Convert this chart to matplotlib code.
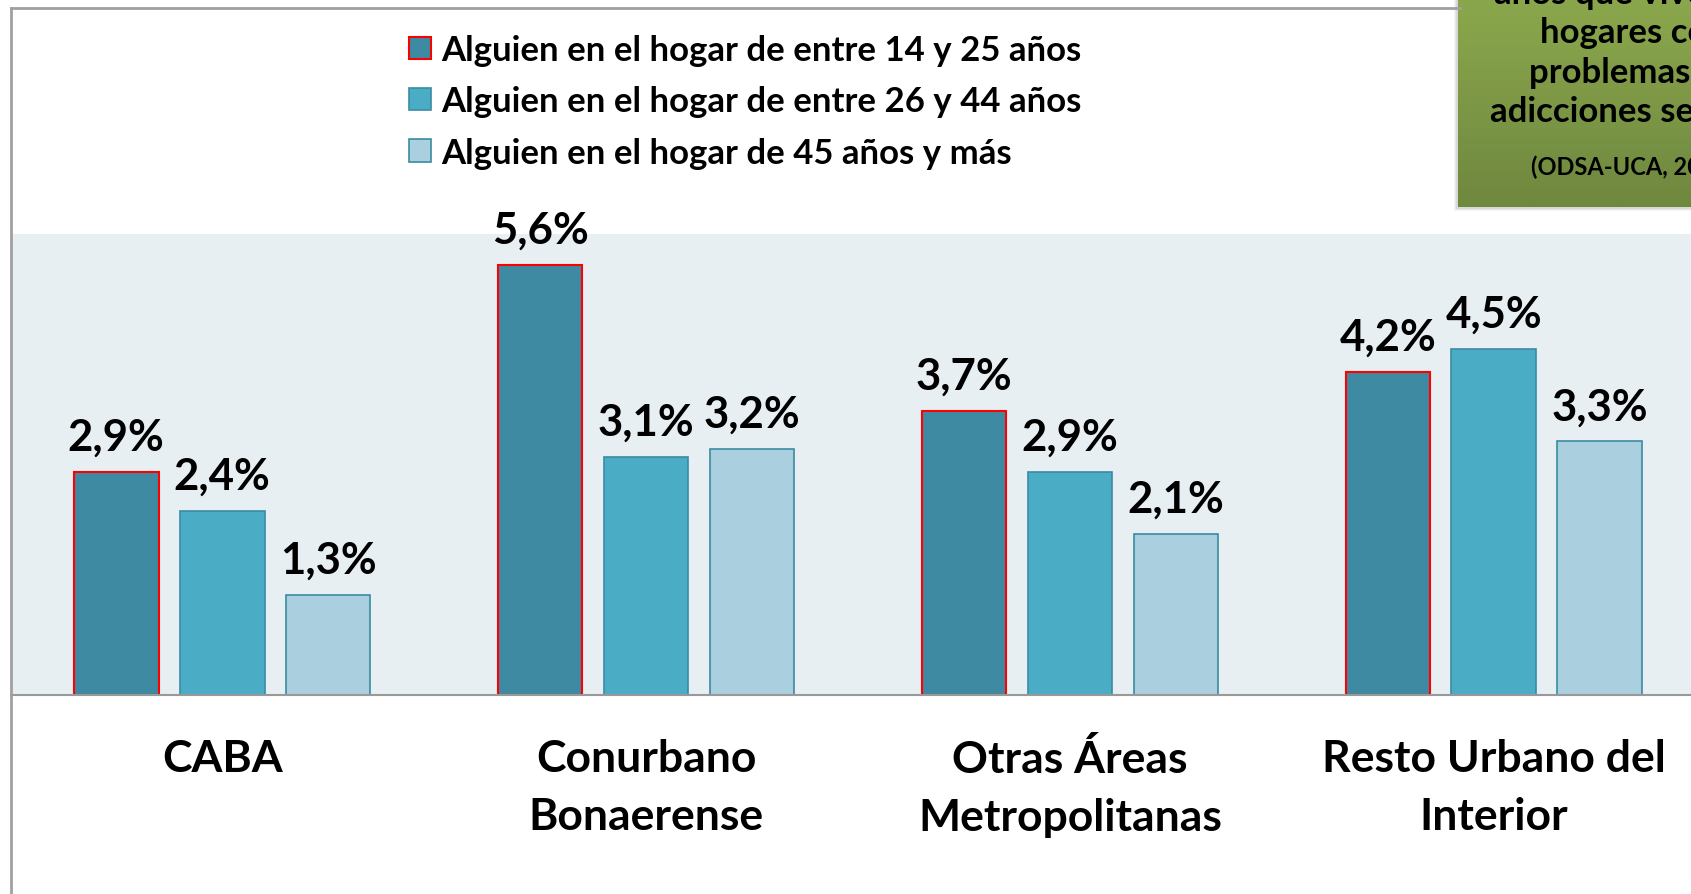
import matplotlib.pyplot as plt
import numpy as np
from matplotlib.lines import Line2D
from matplotlib.patches import Rectangle
from matplotlib.colors import LinearSegmentedColormap

plt.rcParams['font.family'] = ['Lato', 'DejaVu Sans']
plt.rcParams['font.weight'] = 'bold'

categorias = ["CABA", "Conurbano\nBonaerense", "Otras Áreas\nMetropolitanas", "Resto Urbano del\nInterior"]
serie_14_25 = [2.9, 5.6, 3.7, 4.2]
serie_26_44 = [2.4, 3.1, 2.9, 4.5]
serie_45 = [1.3, 3.2, 2.1, 3.3]
nombres = ["Alguien en el hogar de entre 14 y 25 años",
           "Alguien en el hogar de entre 26 y 44 años",
           "Alguien en el hogar de 45 años y más"]
lineas_recuadro = ["años que viven en", "hogares con", "problemas de", "adicciones severas"]
fuente = "(ODSA-UCA, 2011)"

W, H = 1691, 895
fig = plt.figure(figsize=(W / 100, H / 100), dpi=100)
fig.patch.set_facecolor("white")

# area del grafico
ax = fig.add_axes([11 / W, 1 - 696 / H, 1 - 11 / W, (696 - 235) / H])
ax.set_facecolor("#e8eff3")
x = np.arange(len(categorias))
ancho = 0.2
paso = 0.25

b1 = ax.bar(x - paso, serie_14_25, ancho, color="#3d8aa2", edgecolor="#ff0000", linewidth=1.5)
b2 = ax.bar(x, serie_26_44, ancho, color="#4bacc6", edgecolor="#3a8ba3", linewidth=1.2)
b3 = ax.bar(x + paso, serie_45, ancho, color="#aacfde", edgecolor="#3a8ba3", linewidth=1.2)

for barras in (b1, b2, b3):
    for b in barras:
        v = b.get_height()
        ax.annotate(f"{v:.1f}%".replace(".", ","), (b.get_x() + b.get_width() / 2, v),
                    xytext=(0, 11), textcoords="offset points", ha="center", va="bottom",
                    fontsize=31.5, fontweight="bold")

ax.set_ylim(0, 6)
ax.set_xlim(-0.498, 3.465)
ax.set_yticks([])
ax.set_xticks(x)
ax.set_xticklabels(categorias, fontsize=32, fontweight="bold", linespacing=1.53)
ax.tick_params(axis="x", length=0, pad=31)
for s in ("top", "right", "left"):
    ax.spines[s].set_visible(False)
ax.spines["bottom"].set_color("#999999")
ax.spines["bottom"].set_linewidth(1.5)

ax.legend([b1, b2, b3], nombres, loc="upper left", bbox_to_anchor=(409 / W, 1 - 35 / H),
          bbox_transform=fig.transFigure, frameon=False, fontsize=25,
          handlelength=0.62, handleheight=0.62, handletextpad=0.3,
          labelspacing=0.56, borderpad=0, borderaxespad=0)

# marco
gris = "#a0a0a0"
fig.add_artist(Line2D([11 / W, 11 / W], [0, 1 - 9 / H], color=gris, lw=2))
fig.add_artist(Line2D([11 / W, 1460 / W], [1 - 9 / H, 1 - 9 / H], color=gris, lw=2))

# recuadro verde
x0, y0 = 1458 / W, 1 - 208 / H
for k, a in enumerate([0.10, 0.08, 0.06]):
    d = (k + 2) / W
    fig.add_artist(Rectangle((x0 - d, y0 - (k + 2) / H), 1, 1, transform=fig.transFigure,
                             facecolor="#555555", alpha=a, edgecolor="none"))
axg = fig.add_axes([x0, y0, 1 - x0, 1 - y0])
grad = np.linspace(0, 1, 100).reshape(-1, 1)
cmap = LinearSegmentedColormap.from_list("verde", ["#9cc04c", "#77983a"])
axg.imshow(grad, aspect="auto", cmap=cmap, extent=[0, 1, 1, 0])
axg.axis("off")

cx = 1633 / W
for txt, yy in zip(lineas_recuadro, [-6, 33, 73, 112]):
    fig.text(cx, 1 - yy / H, txt, ha="center", va="center", fontsize=25, fontweight="bold")
fig.text(cx, 1 - 167 / H, fuente, ha="center", va="center", fontsize=17, fontweight="bold")

fig.savefig("out.png", dpi=100)
